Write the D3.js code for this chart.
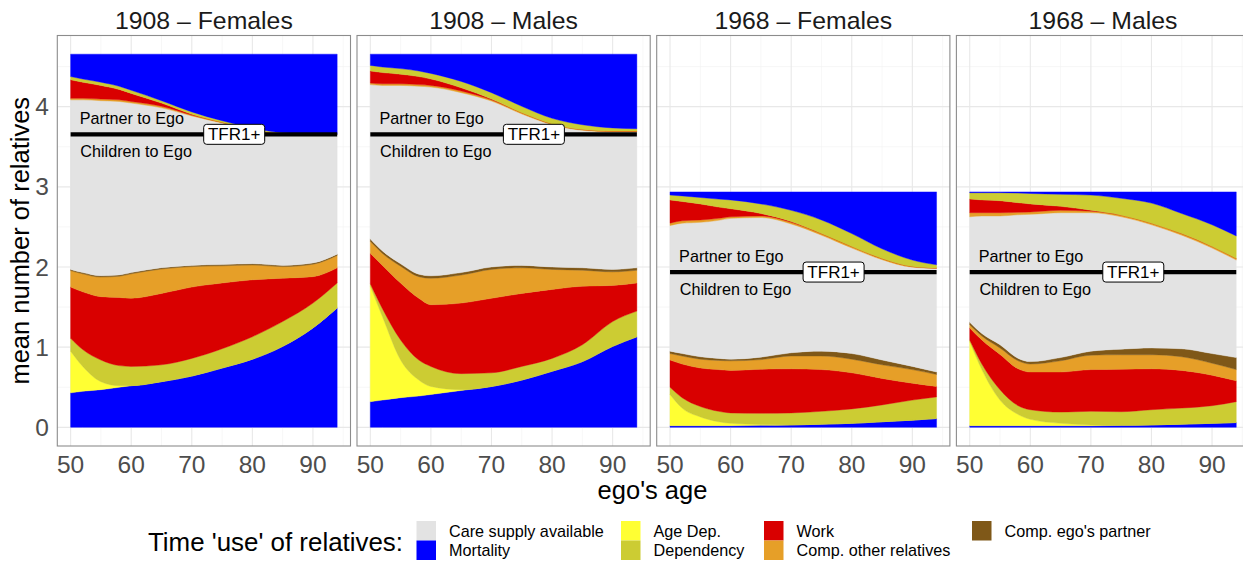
<!DOCTYPE html>
<html>
<head>
<meta charset="utf-8">
<script src="https://cdn.jsdelivr.net/npm/d3@7"></script>
<style>
  html, body { margin: 0; padding: 0; background: #ffffff; }
  svg { display: block; }
</style>
</head>
<body>
<script>
// ---------------- DATA ----------------
const panelTitles = ["1908 \u2013 Females", "1908 \u2013 Males", "1968 \u2013 Females", "1968 \u2013 Males"];
const ages = [50, 52, 55, 58, 60, 65, 70, 75, 80, 85, 90, 94];
const tfr = [3.655, 3.655, 1.937, 1.937];
const tfrLabel = "TFR1+";
const tfrLabelAge = 77;
const partnerLabel = "Partner to Ego";
const childrenLabel = "Children to Ego";
const xTicks = [50, 60, 70, 80, 90];
const yTicks = [0, 1, 2, 3, 4];

// Children to Ego (stacked upward from 0); one row per panel
const mortalityC = [
  [.43, .45, .47, .50, .52, .57, .64, .74, .85, 1.01, 1.24, 1.49],
  [.32, .34, .37, .39, .41, .46, .51, .59, .70, .82, 1.01, 1.13],
  [.02, .02, .02, .02, .02, .025, .03, .04, .05, .07, .09, .11],
  [.02, .02, .02, .02, .02, .02, .02, .025, .03, .04, .05, .06]
];
const ageDepC = [
  [.52, .31, .10, .02, .00, 0, 0, 0, 0, 0, 0, 0],
  [1.44, 1.04, .47, .20, .10, .01, 0, 0, 0, 0, 0, 0],
  [.39, .22, .11, .05, .03, .01, 0, 0, 0, 0, 0, 0],
  [1.05, .70, .32, .14, .08, .03, .01, 0, 0, 0, 0, 0]
];
const dependencyC = [
  [.16, .21, .27, .25, .24, .21, .22, .24, .28, .31, .31, .31],
  [.03, .10, .25, .25, .25, .20, .17, .17, .16, .21, .31, .32],
  [.09, .13, .13, .13, .13, .14, .15, .16, .18, .21, .25, .27],
  [.02, .07, .13, .11, .12, .14, .17, .17, .19, .20, .22, .26]
];
const workC = [
  [.64, .72, .79, .85, .85, .89, .89, .82, .71, .54, .33, .19],
  [.38, .54, .71, .77, .77, .88, .93, .91, .86, .73, .45, .35],
  [.34, .42, .48, .52, .53, .55, .55, .52, .45, .33, .21, .13],
  [.15, .30, .44, .46, .47, .50, .52, .53, .51, .47, .38, .26]
];
const compOtherC = [
  [.205, .225, .245, .265, .305, .305, .255, .215, .185, .145, .155, .155],
  [.15, .15, .21, .27, .33, .35, .36, .32, .25, .20, .17, .16],
  [.08, .10, .11, .115, .12, .12, .16, .17, .17, .17, .17, .15],
  [.04, .05, .08, .10, .10, .14, .18, .18, .175, .17, .15, .14]
];
const compPartnerC = [
  [.015, .015, .015, .015, .015, .015, .015, .015, .015, .015, .015, .015],
  [.03, .03, .03, .03, .03, .03, .03, .03, .03, .03, .03, .03],
  [.03, .03, .03, .025, .02, .03, .04, .06, .07, .06, .04, .03],
  [.03, .03, .04, .03, .03, .04, .05, .07, .085, .10, .12, .15]
];

// Partner to Ego (stacked downward from TFR + 1)
const mortalityP = [
  [.28, .31, .35, .40, .45, .58, .72, .83, .92, .98, .99, 1.0],
  [.14, .16, .18, .21, .24, .34, .48, .65, .80, .88, .92, .93],
  [.04, .05, .07, .09, .10, .15, .23, .35, .52, .71, .85, .91],
  [.01, .01, .01, .015, .02, .03, .04, .08, .14, .27, .41, .55]
];
const dependencyP = [
  [.04, .04, .04, .04, .04, .03, .03, .02, .02, .01, .005, 0],
  [.07, .07, .07, .07, .07, .08, .08, .08, .07, .06, .04, .03],
  [.06, .07, .08, .10, .11, .12, .14, .17, .16, .12, .08, .04],
  [.08, .09, .10, .12, .13, .15, .19, .21, .25, .25, .27, .28]
];
const workP = [
  [.23, .20, .17, .13, .10, .04, .01, 0, 0, 0, 0, 0],
  [.15, .14, .12, .10, .08, .04, .01, 0, 0, 0, 0, 0],
  [.29, .24, .20, .14, .10, .03, .01, 0, 0, 0, 0, 0],
  [.17, .16, .15, .12, .10, .05, .01, 0, 0, 0, 0, 0]
];
const compOtherP = [
  [.02, .02, .02, .02, .02, .02, .01, .01, .01, .005, 0, 0],
  [.02, .02, .02, .02, .02, .02, .015, .015, .01, .01, .01, .01],
  [.03, .03, .03, .025, .02, .02, .02, .02, .02, .015, .01, .005],
  [.05, .04, .04, .03, .03, .03, .02, .02, .02, .02, .02, .02]
];

// Legend
const legendTitle = "Time 'use' of relatives:";
const legendItems = [
  {key: "care", label: "Care supply available", col: 0, row: 0},
  {key: "mortality", label: "Mortality", col: 0, row: 1},
  {key: "ageDep", label: "Age Dep.", col: 1, row: 0},
  {key: "dependency", label: "Dependency", col: 1, row: 1},
  {key: "work", label: "Work", col: 2, row: 0},
  {key: "compOther", label: "Comp. other relatives", col: 2, row: 1},
  {key: "compPartner", label: "Comp. ego's partner", col: 3, row: 0}
];

// ---------------- STYLE ----------------
const colors = {
  care: "#e3e3e3",
  mortality: "#0000ff",
  ageDep: "#ffff33",
  dependency: "#cccc33",
  work: "#d90000",
  compOther: "#e69f28",
  compPartner: "#7f5818"
};
const W = 1243, H = 563;
const font = "'Liberation Sans', Arial, Helvetica, sans-serif";
const panelLeft0 = 57.3, panelStep = 299.7, panelW = 293.2;

const svg = d3.select("body").append("svg")
  .attr("width", W).attr("height", H)
  .style("font-family", font);

const yMaxData = d3.max(tfr) + 1;
const yPad = yMaxData * 0.05;
const y = d3.scaleLinear().domain([-yPad, yMaxData + yPad]).range([446, 35.5]);
const xPad = (d3.max(ages) - d3.min(ages)) * 0.05;

const defs = svg.append("defs");

panelTitles.forEach((title, p) => {
  const left = panelLeft0 + p * panelStep;
  const x = d3.scaleLinear().domain([d3.min(ages) - xPad, d3.max(ages) + xPad]).range([left, left + panelW]);
  const g = svg.append("g");

  defs.append("clipPath").attr("id", "clip" + p)
    .append("rect").attr("x", left).attr("y", y.range()[1])
    .attr("width", panelW).attr("height", y.range()[0] - y.range()[1]);

  // background + grid
  g.append("rect").attr("x", left).attr("y", y.range()[1])
    .attr("width", panelW).attr("height", y.range()[0] - y.range()[1])
    .attr("fill", "#ffffff");
  const minorX = d3.range(55, 100, 10);
  const minorY = d3.range(0.5, 5, 1);
  g.selectAll(".mx").data(minorX).join("line")
    .attr("x1", d => x(d)).attr("x2", d => x(d))
    .attr("y1", y.range()[1]).attr("y2", y.range()[0])
    .attr("stroke", "#f2f2f2").attr("stroke-width", 0.6)
    .attr("clip-path", `url(#clip${p})`);
  g.selectAll(".my").data(minorY).join("line")
    .attr("x1", left).attr("x2", left + panelW)
    .attr("y1", d => y(d)).attr("y2", d => y(d))
    .attr("stroke", "#f2f2f2").attr("stroke-width", 0.6);
  g.selectAll(".gx").data(xTicks).join("line")
    .attr("x1", d => x(d)).attr("x2", d => x(d))
    .attr("y1", y.range()[1]).attr("y2", y.range()[0])
    .attr("stroke", "#e8e8e8").attr("stroke-width", 1.1);
  g.selectAll(".gy").data(yTicks).join("line")
    .attr("x1", left).attr("x2", left + panelW)
    .attr("y1", d => y(d)).attr("y2", d => y(d))
    .attr("stroke", "#e8e8e8").attr("stroke-width", 1.1);

  // children stack
  const childKeys = ["mortality", "ageDep", "dependency", "work", "compOther", "compPartner", "care"];
  const childRows = ages.map((a, i) => {
    const r = {
      age: a,
      mortality: mortalityC[p][i], ageDep: ageDepC[p][i], dependency: dependencyC[p][i],
      work: workC[p][i], compOther: compOtherC[p][i], compPartner: compPartnerC[p][i]
    };
    r.care = Math.max(0, tfr[p] - (r.mortality + r.ageDep + r.dependency + r.work + r.compOther + r.compPartner));
    return r;
  });
  const childSeries = d3.stack().keys(childKeys)(childRows);

  // partner stack (from TFR upward: care, compOther, work, dependency, mortality)
  const partnerKeys = ["care", "compOther", "work", "dependency", "mortality"];
  const partnerRows = ages.map((a, i) => {
    const r = {
      age: a,
      mortality: mortalityP[p][i], dependency: dependencyP[p][i],
      work: workP[p][i], compOther: compOtherP[p][i]
    };
    r.care = Math.max(0, 1 - (r.mortality + r.dependency + r.work + r.compOther));
    return r;
  });
  const partnerSeries = d3.stack().keys(partnerKeys)(partnerRows);

  const areaGen = (base) => d3.area()
    .x(d => x(d.data.age))
    .y0(d => y(base + d[0]))
    .y1(d => y(base + d[1]))
    .curve(d3.curveMonotoneX);

  const layers = g.append("g").attr("clip-path", `url(#clip${p})`);
  layers.selectAll(".child").data(childSeries).join("path")
    .attr("d", areaGen(0))
    .attr("fill", d => colors[d.key])
    .attr("stroke", d => colors[d.key]).attr("stroke-width", 0.4);
  layers.selectAll(".partner").data(partnerSeries).join("path")
    .attr("d", areaGen(tfr[p]))
    .attr("fill", d => colors[d.key])
    .attr("stroke", d => colors[d.key]).attr("stroke-width", 0.4);

  // TFR line
  layers.append("line")
    .attr("x1", x(d3.min(ages))).attr("x2", x(d3.max(ages)))
    .attr("y1", y(tfr[p])).attr("y2", y(tfr[p]))
    .attr("stroke", "#000").attr("stroke-width", 4.3);

  // Partner / Children labels
  layers.append("text")
    .attr("x", x(51.5)).attr("y", y(tfr[p] + 0.2))
    .attr("dominant-baseline", "central")
    .attr("font-size", 16.2).attr("fill", "#000")
    .text(partnerLabel);
  layers.append("text")
    .attr("x", x(51.6)).attr("y", y(tfr[p] - 0.21))
    .attr("dominant-baseline", "central")
    .attr("font-size", 16.2).attr("fill", "#000")
    .text(childrenLabel);

  // TFR label box
  const lb = layers.append("g").attr("transform", `translate(${x(tfrLabelAge)},${y(tfr[p])})`);
  lb.append("rect").attr("x", -30.5).attr("y", -10).attr("width", 61).attr("height", 20)
    .attr("rx", 3).attr("fill", "#fff").attr("stroke", "#000").attr("stroke-width", 1);
  lb.append("text").attr("text-anchor", "middle").attr("dominant-baseline", "central")
    .attr("y", 0.5).attr("font-size", 17).attr("fill", "#000").text(tfrLabel);

  // border
  g.append("rect").attr("x", left).attr("y", y.range()[1])
    .attr("width", panelW).attr("height", y.range()[0] - y.range()[1])
    .attr("fill", "none").attr("stroke", "#8c8c8c").attr("stroke-width", 1.1);

  // title
  svg.append("text")
    .attr("x", left + panelW / 2).attr("y", 29)
    .attr("text-anchor", "middle").attr("font-size", 24.8).attr("fill", "#1a1a1a")
    .text(title);

  // x tick labels
  svg.selectAll(null).data(xTicks).join("text")
    .attr("x", d => x(d)).attr("y", 473)
    .attr("text-anchor", "middle").attr("font-size", 24.5).attr("fill", "#4d4d4d")
    .text(d => d);

  // y tick labels (first panel only)
  if (p === 0) {
    svg.selectAll(null).data(yTicks).join("text")
      .attr("x", 49).attr("y", d => y(d))
      .attr("text-anchor", "end").attr("dominant-baseline", "central")
      .attr("font-size", 24.5).attr("fill", "#4d4d4d")
      .text(d => d);
  }
});

// axis titles
svg.append("text")
  .attr("transform", `translate(28.5,${(y.range()[0] + y.range()[1]) / 2}) rotate(-90)`)
  .attr("text-anchor", "middle").attr("font-size", 25.5).attr("fill", "#000")
  .text("mean number of relatives");
svg.append("text")
  .attr("x", 652.5).attr("y", 499)
  .attr("text-anchor", "middle").attr("font-size", 25.5).attr("fill", "#000")
  .text("ego's age");

// legend
svg.append("text").attr("x", 148).attr("y", 551)
  .attr("font-size", 25.9).attr("fill", "#000").text(legendTitle);
const colX = [416.5, 621, 764, 972];
const rowY = [521, 540.5];
const keySize = 19.5;
const lg = svg.append("g");
lg.selectAll("rect").data(legendItems).join("rect")
  .attr("x", d => colX[d.col]).attr("y", d => rowY[d.row])
  .attr("width", keySize).attr("height", keySize)
  .attr("fill", d => colors[d.key]);
lg.selectAll("text").data(legendItems).join("text")
  .attr("x", d => colX[d.col] + 32.5).attr("y", d => rowY[d.row] + keySize / 2)
  .attr("dominant-baseline", "central")
  .attr("font-size", 16.2).attr("fill", "#000")
  .text(d => d.label);
</script>
</body>
</html>
